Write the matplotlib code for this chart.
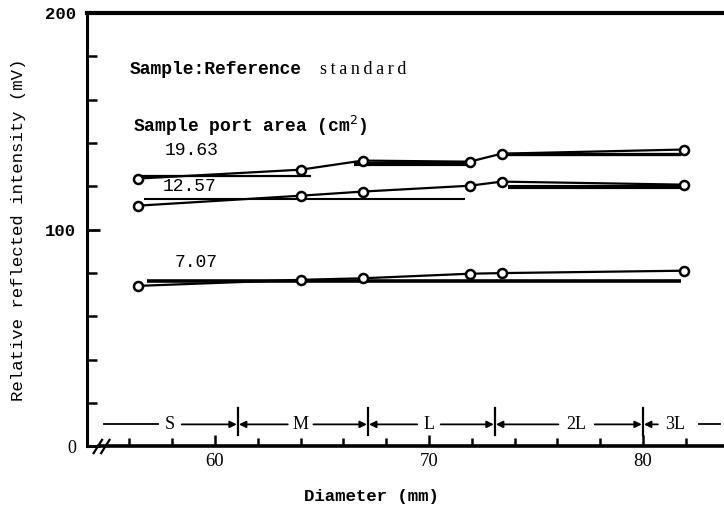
import matplotlib
matplotlib.use("Agg")
import matplotlib.pyplot as plt
from matplotlib.ticker import FixedLocator

# ---------------- data ----------------
diameter = [56.4, 64.0, 66.9, 71.9, 73.4, 81.9]
area_labels = ["19.63", "12.57", "7.07"]
s1963 = [123.6, 127.7, 131.9, 131.4, 135.1, 137.0]
s1257 = [111.1, 115.7, 117.6, 120.3, 122.2, 120.8]
s707 = [74.1, 76.9, 77.6, 79.7, 80.0, 81.1]

# horizontal mean lines: (x_start, x_end, value, thickness)
mean1963 = [(56.4, 64.5, 124.9, 1.6), (66.5, 71.8, 130.5, 3.0), (73.4, 81.8, 135.1, 2.4)]
mean1257 = [(56.7, 71.7, 114.3, 1.5), (73.7, 81.9, 119.9, 3.0)]
mean707 = [(56.8, 81.8, 76.4, 2.6)]

size_classes = ["S", "M", "L", "2L", "3L"]
class_bounds = [61.07, 67.15, 73.08, 80.0]
class_label_x = [57.9, 64.0, 70.0, 76.9, 81.5]

xmajor = [60, 70, 80]
xminor = [56, 58, 62, 64, 66, 68, 72, 74, 76, 78, 82]
ymajor = [0, 100, 200]
yminor = [20, 40, 60, 80, 120, 140, 160, 180]

MONO = "Liberation Mono"
SERIF = "Liberation Serif"

fig = plt.figure(figsize=(7.24, 5.09), dpi=100)
ax = fig.add_axes([0.1202, 0.1228, 0.8798, 0.8517])
ax.set_xlim(54.02, 83.79)
ax.set_ylim(0, 200)

ax.spines["right"].set_visible(False)
ax.spines["top"].set_linewidth(3.0)
ax.spines["left"].set_linewidth(2.2)
ax.spines["bottom"].set_linewidth(2.6)
ax.spines["bottom"].set_bounds(54.6, 83.79)

# axis break marks
for dx in (0.0, 0.35):
    ax.plot([54.3 + dx, 54.75 + dx], [-3.5, 3.5], color="black", lw=1.6,
            clip_on=False, solid_capstyle="butt")
ax.plot([54.02, 54.45], [0, 0], color="black", lw=2.2, clip_on=False)

# ticks
ax.xaxis.set_major_locator(FixedLocator(xmajor))
ax.xaxis.set_minor_locator(FixedLocator(xminor))
ax.yaxis.set_major_locator(FixedLocator(ymajor))
ax.yaxis.set_minor_locator(FixedLocator(yminor))
ax.tick_params(axis="x", which="major", direction="in", length=8, width=1.8,
               pad=5, labelsize=13.5)
ax.tick_params(axis="x", which="minor", direction="in", length=6, width=1.8)
ax.tick_params(axis="y", which="major", direction="in", length=9.5, width=2.0,
               pad=8, labelsize=12.5)
ax.tick_params(axis="y", which="minor", direction="in", length=7, width=1.8)
ax.xaxis.set_ticklabels(["60", "70", "80"])
for t in ax.get_xticklabels():
    t.set_family(SERIF)
ax.yaxis.set_ticklabels(["0", "100", "200"])
ylabs = ax.get_yticklabels()
for t in ylabs:
    t.set_family(MONO)
    t.set_fontweight("bold")
ylabs[0].set_family(SERIF)
ylabs[0].set_fontweight("normal")
ylabs[0].set_fontsize(13)

# data series
for vals in (s1963, s1257, s707):
    ax.plot(diameter, vals, color="black", lw=1.6, marker="o", markersize=6.5,
            markerfacecolor="white", markeredgecolor="black", markeredgewidth=1.8,
            zorder=3)

# mean lines
for group in (mean1963, mean1257, mean707):
    for x0, x1, v, w in group:
        ax.plot([x0, x1], [v, v], color="black", lw=w, solid_capstyle="butt", zorder=2)

# text annotations
ax.text(56.03, 174, "Sample:Reference", family=MONO, fontsize=13, va="center",
        fontweight="bold")
ax.text(64.9, 174, "s\u2009t\u2009a\u2009n\u2009d\u2009a\u2009r\u2009d",
        family=[SERIF, "DejaVu Serif"], fontsize=13, va="center")
ax.text(56.17, 148, "Sample port area (cm$^2$)", family=MONO, fontsize=13,
        va="center", fontweight="bold")
ax.text(57.66, 136.5, area_labels[0], family=MONO, fontsize=13, va="center")
ax.text(57.57, 120, area_labels[1], family=MONO, fontsize=13, va="center")
ax.text(58.13, 85, area_labels[2], family=MONO, fontsize=13, va="center")

# size class band
yb = 10.2
band_left, band_right = 54.8, 83.6
edges = [band_left] + class_bounds + [band_right]
half_gap = [0.55, 0.6, 0.55, 0.6, 0.55]
for i, name in enumerate(size_classes):
    lx = class_label_x[i]
    ax.text(lx, yb, name, family=SERIF, fontsize=13, ha="center", va="center")
    left, right = edges[i], edges[i + 1]
    g = half_gap[i] + 0.25 * (len(name) - 1)
    if i == 0:
        ax.plot([left, lx - g], [yb, yb], color="black", lw=1.3)
    else:
        ax.annotate("", xy=(left + 0.05, yb), xytext=(lx - g, yb),
                    arrowprops=dict(arrowstyle="-|>", color="black", lw=1.3,
                                    mutation_scale=10, shrinkA=0, shrinkB=0))
    if i == len(size_classes) - 1:
        ax.plot([lx + g + 0.3, right], [yb, yb], color="black", lw=1.3)
    else:
        ax.annotate("", xy=(right - 0.05, yb), xytext=(lx + g, yb),
                    arrowprops=dict(arrowstyle="-|>", color="black", lw=1.3,
                                    mutation_scale=10, shrinkA=0, shrinkB=0))
for b in class_bounds:
    ax.plot([b, b], [5.3, 17.8], color="black", lw=1.6)

ax.set_ylabel("Relative reflected intensity (mV)", family=MONO, fontsize=12.5)
ax.yaxis.set_label_coords(-0.096, 0.5)
ax.set_xlabel("Diameter (mm)", family=MONO, fontsize=12.5, fontweight="bold")
ax.xaxis.set_label_coords(0.447, -0.099)

fig.savefig("out.png", dpi=100)
